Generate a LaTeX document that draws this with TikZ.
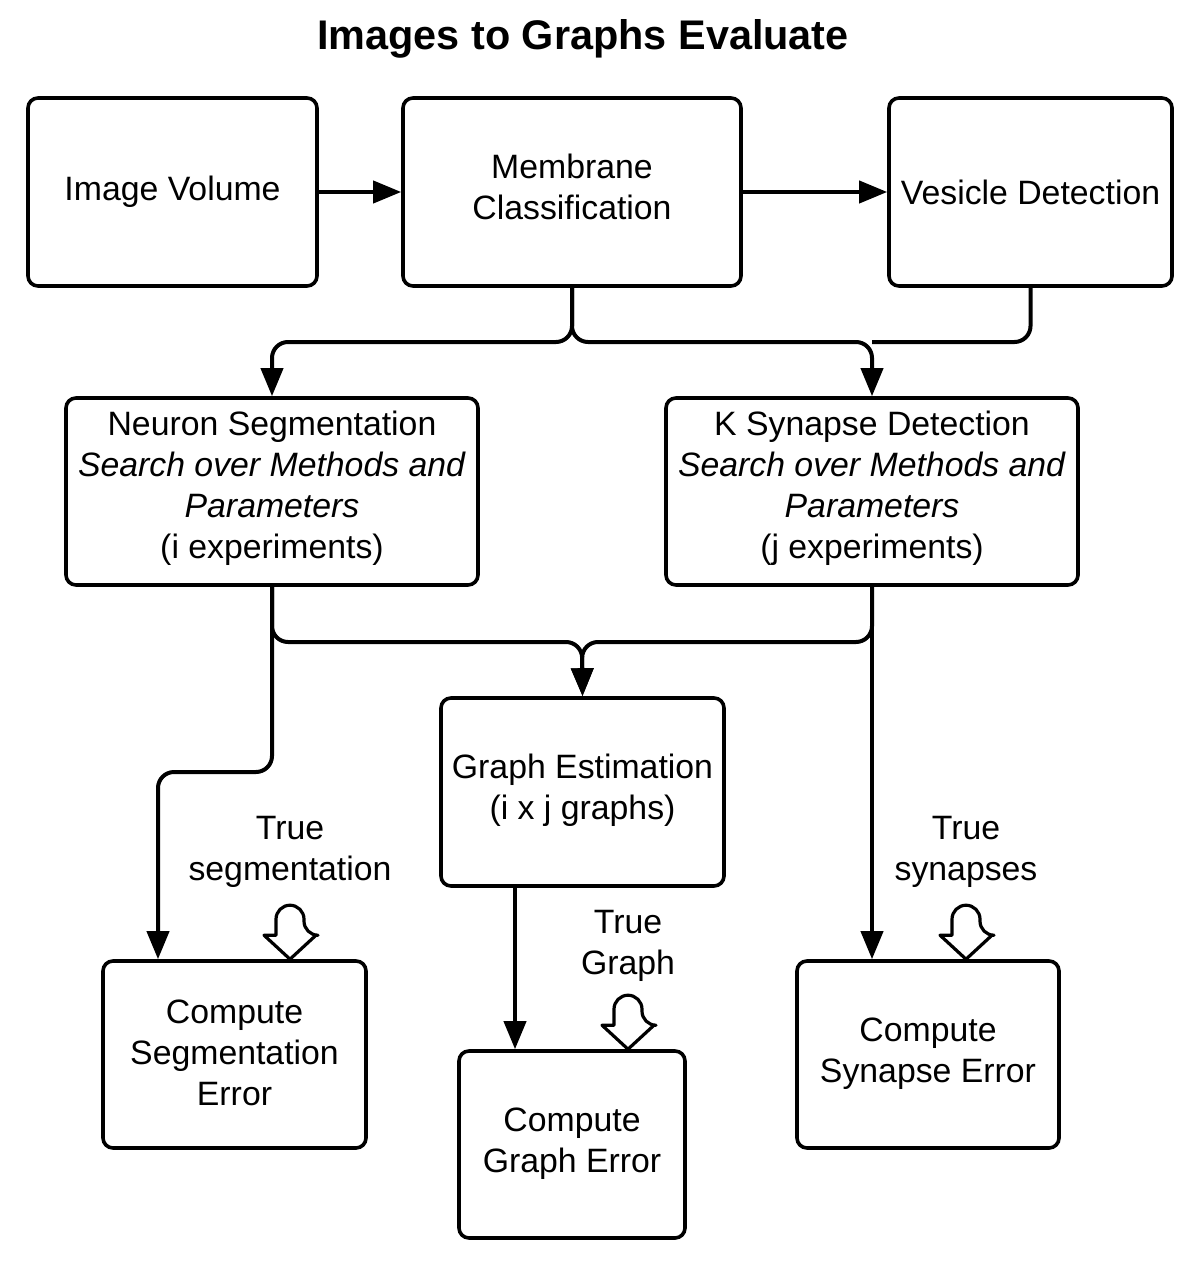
\documentclass[tikz,border=0pt]{standalone}
\usepackage{fontspec}
\setmainfont{Liberation Sans}
\usepackage{tikz}
\usetikzlibrary{arrows.meta}

\begin{document}
\begin{tikzpicture}[x=0.5pt,y=-0.5pt,line width=2pt,
			box/.style={draw,rounded corners=5pt,line width=1.8pt,align=center,
				inner sep=0pt,font=\fontsize{16.9}{20.5}\selectfont},
			note/.style={align=center,font=\fontsize{16.9}{20.5}\selectfont},
			arr/.style={-{Triangle[length=14pt,width=11pt]}},
			truearrow/.pic={\draw[line width=1.6pt,fill=white,line join=round]
				(0,0) -- (-26,-24) -- (-14,-24) [rounded corners=7pt] -- (-14,-54)
				-- (14,-54) -- (14,-24) [sharp corners] -- (26,-24) -- cycle;}]
			
			\useasboundingbox (0,0) rectangle (1196,1267);
			
			\node[font=\bfseries\fontsize{20.7}{24}\selectfont] (title) at (583,39) {Images to Graphs Evaluate};
			
			\node[box,minimum width=144.5pt,minimum height=94pt] (img) at (172.5,192) {Image Volume};
			\node[box,minimum width=169pt,minimum height=94pt,text depth=5pt] (mem) at (572,192) {Membrane\\Classification};
			\node[box,minimum width=141.5pt,minimum height=94pt] (ves) at (1030.5,192) {Vesicle Detection};
			\node[box,minimum width=206pt,minimum height=93.5pt,text depth=6.5pt] (neu) at (272,491.5)
				{Neuron Segmentation\\\textit{Search over Methods and}\\\textit{Parameters}\\(i experiments)};
			\node[box,minimum width=206pt,minimum height=93.5pt,text depth=6.5pt] (syn) at (872,491.5)
				{K Synapse Detection\\\textit{Search over Methods and}\\\textit{Parameters}\\(j experiments)};
			\node[box,minimum width=141.5pt,minimum height=94pt,text depth=5.5pt] (graph) at (582.5,792) {Graph Estimation\\(i x j graphs)};
			\node[box,minimum width=131.5pt,minimum height=93.5pt,text depth=2pt] (segerr) at (234.5,1054.5) {Compute\\Segmentation\\Error};
			\node[box,minimum width=113pt,minimum height=93.5pt,text depth=4pt] (grerr) at (572,1144.5) {Compute\\Graph Error};
			\node[box,minimum width=131pt,minimum height=93.5pt,text depth=4pt] (synerr) at (928,1054.5) {Compute\\Synapse Error};
			
			\node[note] (seglbl) at (290,852) {True\\segmentation};
			\node[note] (grlbl) at (628,946) {True\\Graph};
			\node[note] (synlbl) at (966,852) {True\\synapses};
			
			\coordinate (split1) at (572,342);
			\coordinate (split2) at (582,642);
			\coordinate (bend) at (158,772);
			\coordinate (gdown) at (515,886);
			
			\path[arr] (img) edge (mem)
			(mem) edge (ves);
			\draw[arr,rounded corners=8pt] (mem.south) -- (split1) -| (neu.north);
			\draw[arr,rounded corners=8pt] (mem.south) -- (split1) -| (syn.north);
			\draw[rounded corners=8pt] (ves.south) |- (syn.north |- split1);
			\draw[arr,rounded corners=8pt] (neu.south) |- (split2) -- (graph.north);
			\draw[arr,rounded corners=8pt] (syn.south) |- (split2) -- (graph.north);
			\draw[arr,rounded corners=8pt] (neu.south) |- (bend) -- (bend |- segerr.north);
			\draw[arr] (syn.south) -- (syn.south |- synerr.north);
			\draw[arr] (gdown) -- (gdown |- grerr.north);
			
			\pic at (seglbl.south |- segerr.north) {truearrow};
			\pic at (grlbl.south |- grerr.north) {truearrow};
			\pic at (synlbl.south |- synerr.north) {truearrow};
		\end{tikzpicture}
\end{document}
